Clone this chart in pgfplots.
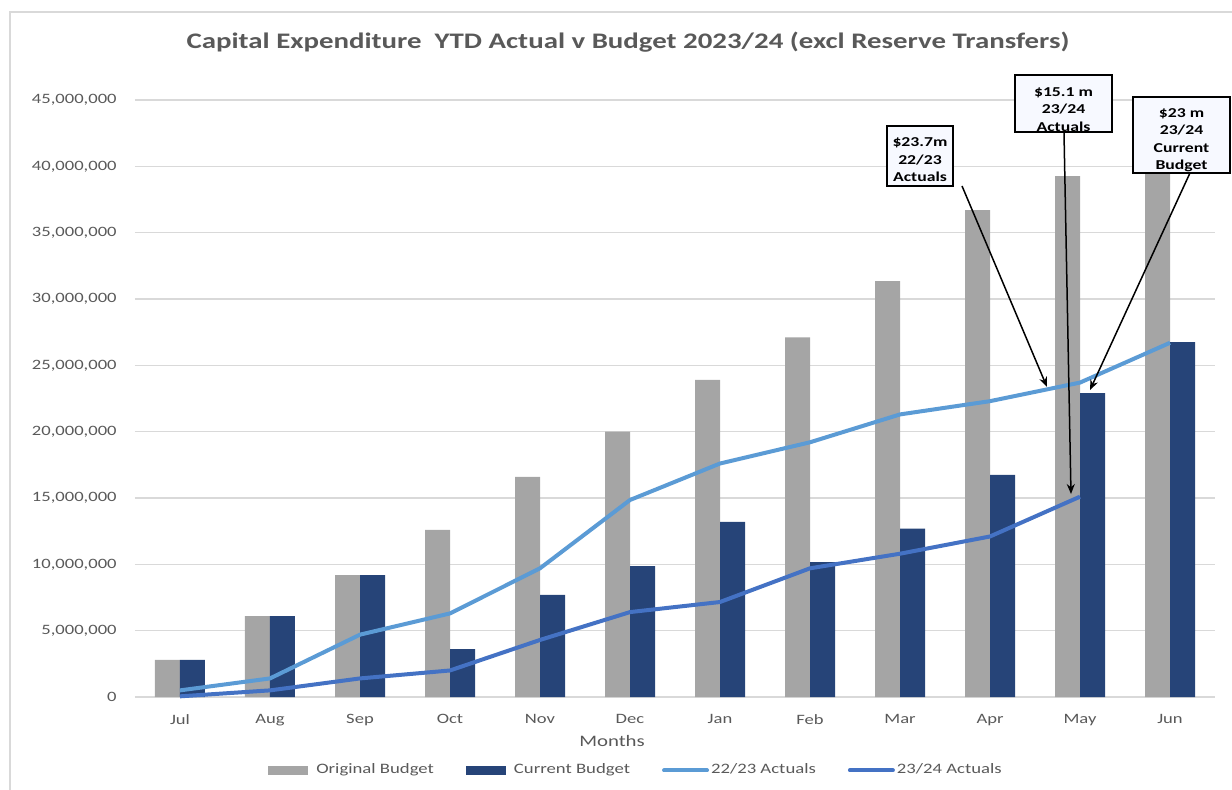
\documentclass[border=0pt]{standalone}
\usepackage{fontspec}
\setmainfont[FakeStretch=1.3]{Carlito}
\usepackage{pgfplots}
\pgfplotsset{compat=1.18}
\usetikzlibrary{arrows.meta}
\definecolor{obgray}{HTML}{A5A5A5}
\definecolor{cbnavy}{HTML}{264478}
\definecolor{lblue}{HTML}{5B9BD5}
\definecolor{dblue}{HTML}{4472C4}
\definecolor{gridgray}{HTML}{D9D9D9}
\definecolor{textgray}{HTML}{595959}
\definecolor{framegray}{HTML}{D9D9D9}
\definecolor{boxfill}{HTML}{F7F9FF}
\begin{document}
\begin{tikzpicture}[x=1pt,y=1pt]
\path[use as bounding box] (-67.5,-46) rectangle (548.5,348.5);
\draw[color=framegray, line width=1pt] (-62.5,-60) -- (-62.5,342.5) -- (560,342.5);
\begin{axis}[
  at={(0,0)}, anchor=south west,
  scale only axis, width=540pt, height=298.5pt,
  xmin=-0.5, xmax=11.5, ymin=0, ymax=45000000,
  xtick={0,...,11},
  xticklabels={Jul,Aug,Sep,Oct,Nov,Dec,Jan,Feb,Mar,Apr,May,Jun},
  ytick={0,5000000,10000000,15000000,20000000,25000000,30000000,35000000,40000000,45000000},
  scaled y ticks=false,
  /pgf/number format/fixed,
  /pgf/number format/1000 sep={,},
  /pgf/number format/assume math mode=true,
  axis line style={draw=none},
  major tick length=0pt,
  ymajorgrids, grid style={color=gridgray, line width=0.75pt},
  ticklabel style={font=\fontsize{7.15}{8}\selectfont, text=textgray},
  yticklabel style={inner sep=0pt, xshift=-9pt},
  xticklabel style={inner sep=0pt, yshift=-8.5pt},
  clip=false,
  legend style={draw=none, fill=none, legend columns=4,
    at={(axis description cs:0.463,-0.123)}, anchor=center,
    font=\fontsize{7.2}{8}\selectfont, text=textgray,
    nodes={inner xsep=0pt, inner ysep=1pt},
    /tikz/every even column/.append style={column sep=16pt}},
]
\addplot[ybar, bar width=12.5pt, bar shift=-6.25pt, fill=obgray, draw=none,
  legend image code/.code={\fill[obgray] (0pt,-2.25pt) rectangle (20pt,2.25pt); \path (24pt,0pt);}]
  coordinates {(0,2790000) (1,6100000) (2,9190000) (3,12600000) (4,16600000) (5,20000000)
               (6,23900000) (7,27100000) (8,31350000) (9,36700000) (10,39260000) (11,42000000)};
\addlegendentry{Original Budget}
\addplot[ybar, bar width=12.5pt, bar shift=6.25pt, fill=cbnavy, draw=none,
  legend image code/.code={\fill[cbnavy] (0pt,-2.25pt) rectangle (20pt,2.25pt); \path (24pt,0pt);}]
  coordinates {(0,2790000) (1,6100000) (2,9190000) (3,3600000) (4,7700000) (5,9870000)
               (6,13200000) (7,10170000) (8,12700000) (9,16750000) (10,22900000) (11,26750000)};
\addlegendentry{Current Budget}
\addplot[color=lblue, line width=2pt, line join=round, mark=none,
  legend image code/.code={\draw[lblue, line width=2pt, line cap=round] (0.5pt,0pt) -- (22pt,0pt); \path (23pt,0pt);}]
  coordinates {(0,500000) (1,1400000) (2,4700000) (3,6300000) (4,9700000) (5,14850000)
               (6,17600000) (7,19200000) (8,21300000) (9,22300000) (10,23700000) (11,26700000)};
\addlegendentry{22/23 Actuals}
\addplot[color=dblue, line width=2pt, line join=round, mark=none,
  legend image code/.code={\draw[dblue, line width=2pt, line cap=round] (0.5pt,0pt) -- (22pt,0pt); \path (23pt,0pt);}]
  coordinates {(0,50000) (1,500000) (2,1400000) (3,2000000) (4,4300000) (5,6400000)
               (6,7160000) (7,9700000) (8,10800000) (9,12100000) (10,15100000)};
\addlegendentry{23/24 Actuals}
% annotations
\draw[-{Stealth[length=5pt,width=4pt]}, line width=0.75pt] (axis cs:8.689,38520000) -- (axis cs:9.633,23370000);
\draw[-{Stealth[length=5pt,width=4pt]}, line width=0.75pt] (axis cs:9.822,42590000) -- (axis cs:9.9,15300000);
\draw[-{Stealth[length=5pt,width=4pt]}, line width=0.75pt] (axis cs:11.222,39500000) -- (axis cs:10.111,23140000);
\node[draw=black, line width=1pt, fill=boxfill, minimum width=33pt, minimum height=30pt, inner sep=0pt]
  at (axis cs:8.222,40780000) {};
\node[align=center, inner sep=0pt, font=\bfseries\fontsize{6.8}{8.75}\selectfont, text=black]
  at (axis cs:8.222,40780000) [yshift=-2pt] {\$23.7m\\22/23\\Actuals};
\node[draw=black, line width=1pt, fill=boxfill, minimum width=48.5pt, minimum height=28.5pt, inner sep=0pt]
  at (axis cs:9.817,44740000) {};
\node[align=center, inner sep=0pt, font=\bfseries\fontsize{6.8}{8.75}\selectfont, text=black]
  at (axis cs:9.817,44740000) [yshift=-3pt] {\$15.1 m\\23/24\\Actuals};
\node[draw=black, line width=1pt, fill=boxfill, minimum width=48.5pt, minimum height=38pt, inner sep=0pt]
  at (axis cs:11.128,42360000) {};
\node[align=center, inner sep=0pt, font=\bfseries\fontsize{6.8}{8.75}\selectfont, text=black]
  at (axis cs:11.128,42360000) [yshift=-2.5pt] {\$23 m\\23/24\\Current\\Budget};
% title and axis label
\node[font=\bfseries\fontsize{11.1}{13}\selectfont, text=textgray] at (rel axis cs:0.4565,1) [yshift=29pt]
  {Capital Expenditure\ \ YTD Actual v Budget 2023/24 (excl Reserve Transfers)};
\node[font=\fontsize{8}{9}\selectfont, text=textgray] at (rel axis cs:0.4417,0) [yshift=-22pt] {Months};
\end{axis}
\end{tikzpicture}
\end{document}
